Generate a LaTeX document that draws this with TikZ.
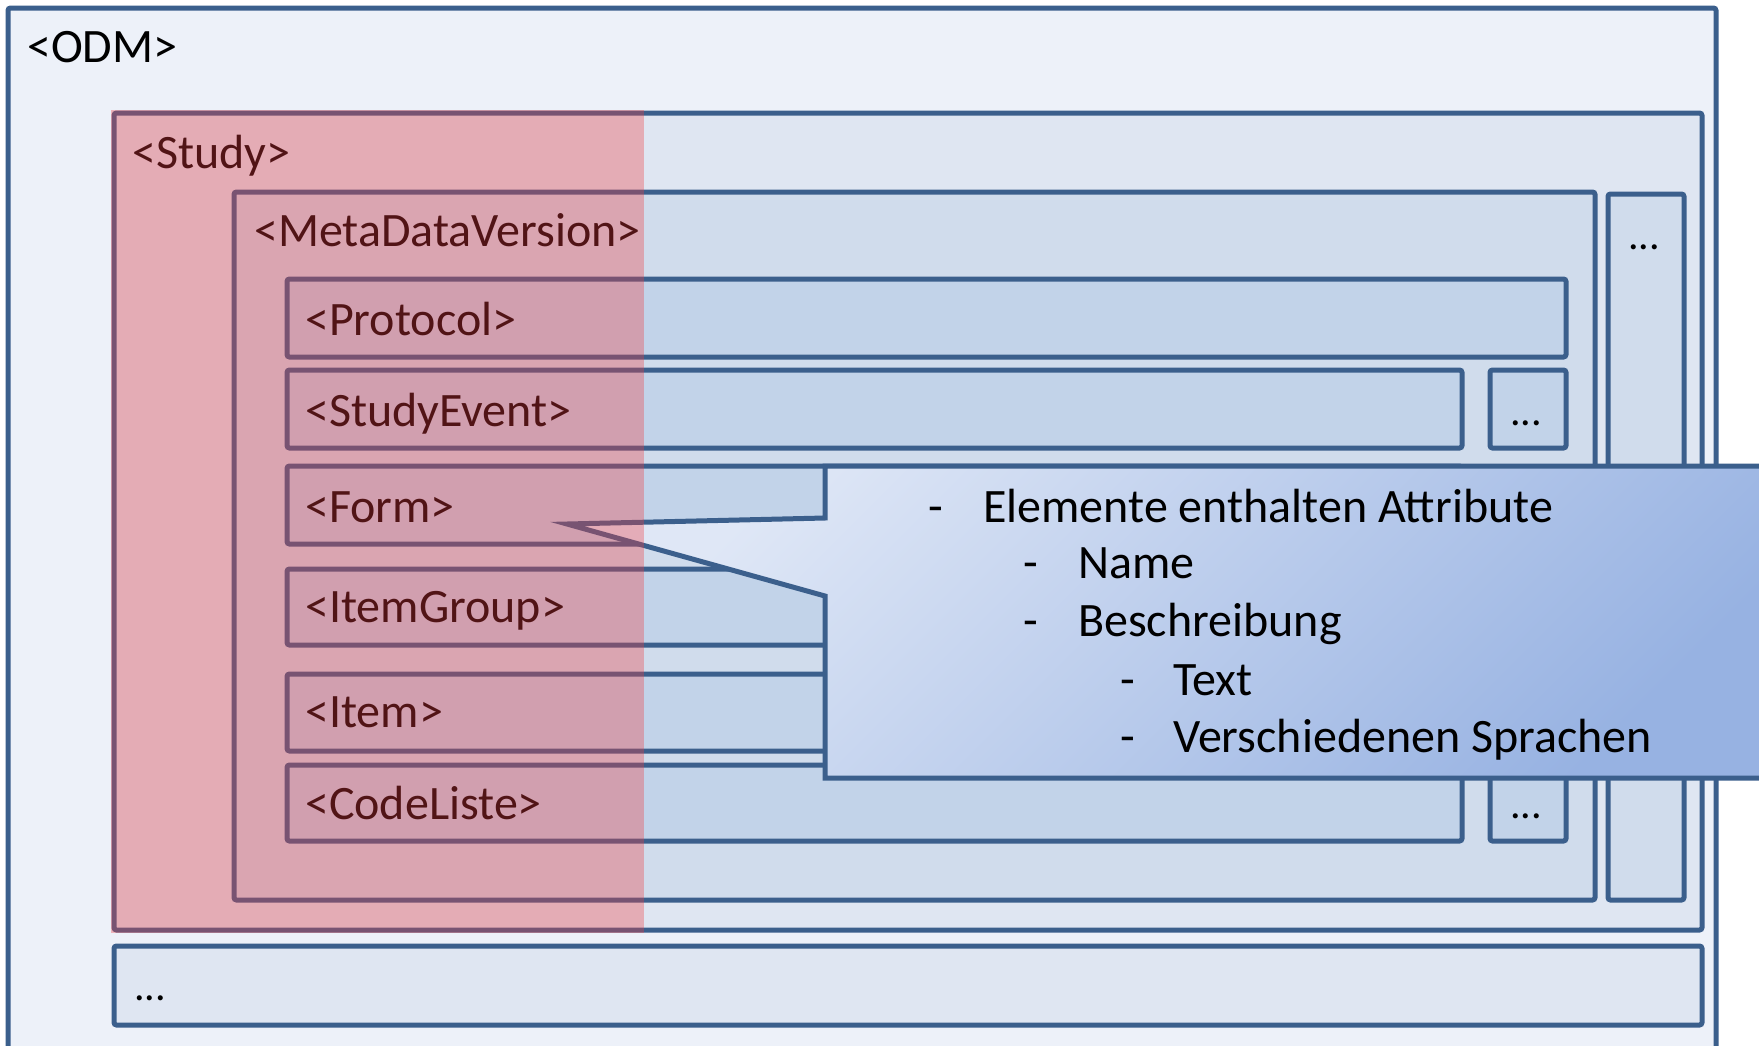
\documentclass[tikz,border=0pt]{standalone}
\usepackage{fontspec}
\setmainfont{Carlito}

\definecolor{edge}{HTML}{3B5F8C}
\definecolor{odmfill}{HTML}{EDF1F9}
\definecolor{studyfill}{HTML}{DFE6F2}
\definecolor{mdvfill}{HTML}{D0DCEC}
\definecolor{itemfill}{HTML}{C2D3E9}
\definecolor{hilite}{HTML}{F03C41}
\definecolor{noteA}{HTML}{DFE7F6}
\definecolor{noteB}{HTML}{97B2E2}

\begin{document}
\begin{tikzpicture}[x=1pt,y=-1pt,
  box/.style={draw=edge,line width=5pt,rounded corners=2.5pt},
  lbl/.style={anchor=base west,inner sep=0pt,font=\fontsize{48}{56}\selectfont},
  dots/.style={anchor=base,inner sep=0pt,font=\fontsize{42}{48}\selectfont},
  note/.style={anchor=base west,inner sep=0pt,font=\fontsize{48}{56}\selectfont}]
\useasboundingbox (0,0) rectangle (1759,1045);
\clip (0,0) rectangle (1759,1045);
\fill[white] (0,0) rectangle (1759,1045);

% nested element boxes
\draw[box,fill=odmfill]   (8,8)     rectangle (1716,1075);
\draw[box,fill=studyfill] (114,113) rectangle (1702,930);
\draw[box,fill=studyfill] (114,946) rectangle (1702,1025);
\draw[box,fill=mdvfill]   (234,192) rectangle (1595,900);
\draw[box,fill=mdvfill]   (1608,194) rectangle (1684,900);
\draw[box,fill=itemfill]  (287,279) rectangle (1566,357);
\draw[box,fill=itemfill]  (287,370) rectangle (1462,448);
\draw[box,fill=itemfill]  (1490,370) rectangle (1566,448);
\draw[box,fill=itemfill]  (287,466) rectangle (1462,544);
\draw[box,fill=itemfill]  (287,569) rectangle (1462,645);
\draw[box,fill=itemfill]  (287,674) rectangle (1462,751);
\draw[box,fill=itemfill]  (287,765) rectangle (1462,841);
\draw[box,fill=itemfill]  (1490,765) rectangle (1566,841);

% element names
\node[lbl] (odm)   at (27,62)   {<ODM>};
\node[lbl] (study) at (132,168) {<Study>};
\node[lbl] (mdv)   at (254,246) {<MetaDataVersion>};
\node[lbl] (prot)  at (305,335) {<Protocol>};
\node[lbl] (sev)   at (305,426) {<StudyEvent>};
\node[lbl] (form)  at (305,522) {<Form>};
\node[lbl] (igrp)  at (305,622) {<ItemGroup>};
\node[lbl] (item)  at (305,727) {<Item>};
\node[lbl] (clist) at (305,819) {<CodeListe>};

% ellipsis marks
\node[dots] (d1) at (1644,249)  {...};
\node[dots] (d2) at (1526,425)  {...};
\node[dots] (d3) at (1526,818)  {...};
\node[dots] (d4) at (150,1000)  {...};

% callout pointing at <Form>
\draw[draw=edge,line width=5pt,line join=miter,
      top color=noteA,bottom color=noteB,shading angle=45]
  (825,466) -- (1800,466) -- (1800,778) -- (825,778) -- (825,596)
  -- (567,524) -- (825,518) -- cycle;
\coordinate (tip) at (567,524);

\node[note] (n1a) at (928,522)  {-};
\node[note] (n1b) at (983,522)  {Elemente enthalten Attribute};
\node[note] (n2a) at (1023,578) {-};
\node[note] (n2b) at (1078,578) {Name};
\node[note] (n3a) at (1023,636) {-};
\node[note] (n3b) at (1078,636) {Beschreibung};
\node[note] (n4a) at (1120,695) {-};
\node[note] (n4b) at (1173,695) {Text};
\node[note] (n5a) at (1120,752) {-};
\node[note] (n5b) at (1173,752) {Verschiedenen Sprachen};

% translucent highlight over the left part of <Study>
\fill[hilite,opacity=0.34] (111,110) rectangle (644,933);
\end{tikzpicture}
\end{document}
